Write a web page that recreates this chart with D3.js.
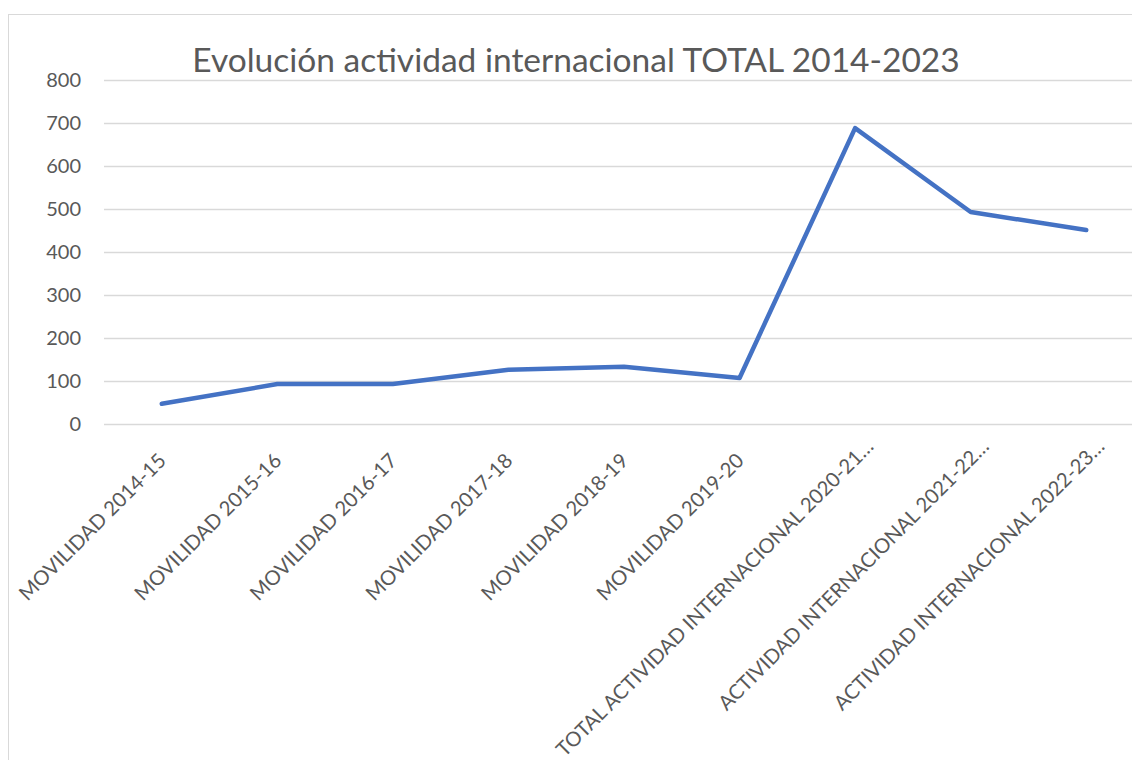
<!DOCTYPE html>
<html>
<head>
<meta charset="utf-8">
<script src="https://cdn.jsdelivr.net/npm/d3@7"></script>
<style>
  body { margin: 0; background: #fff; }
  text { font-family: Lato, "Open Sans", sans-serif; fill: #595959; }
</style>
</head>
<body>
<script>
"use strict";

const categories = [
  "MOVILIDAD 2014-15",
  "MOVILIDAD 2015-16",
  "MOVILIDAD 2016-17",
  "MOVILIDAD 2017-18",
  "MOVILIDAD 2018-19",
  "MOVILIDAD 2019-20",
  "TOTAL ACTIVIDAD INTERNACIONAL 2020-21…",
  "ACTIVIDAD INTERNACIONAL 2021-22…",
  "ACTIVIDAD INTERNACIONAL 2022-23…"
];
const values = [47, 93, 93, 126, 133, 107, 688, 493, 451];
const yTicks = [0, 100, 200, 300, 400, 500, 600, 700, 800];
const title = "Evolución actividad internacional TOTAL 2014-2023";

const width = 1132, height = 760;
const plot = {left: 104, right: 1144, top: 80, bottom: 424};

let svg = d3.select("body").append("svg")
    .attr("width", width)
    .attr("height", height);

// chart frame (runs past the right and bottom edges)
svg.append("rect")
  .attr("x", 8.5).attr("y", 14.5)
  .attr("width", 1200).attr("height", 800)
  .attr("fill", "none")
  .attr("stroke", "#d9d9d9");

let x = d3.scalePoint()
    .domain(categories)
    .range([plot.left, plot.right])
    .padding(0.5);

let y = d3.scaleLinear()
    .domain([0, 800])
    .range([plot.bottom, plot.top]);

svg.append("text")
  .attr("x", 576)
  .attr("y", 72)
  .attr("text-anchor", "middle")
  .attr("font-size", 33.5)
  .text(title);

// gridlines + y labels
let yAxis = svg.append("g")
    .attr("transform", `translate(${plot.left},0)`)
    .call(d3.axisLeft(y).tickValues(yTicks).tickSize(-(plot.right - plot.left)).tickPadding(23));
yAxis.select(".domain").remove();
yAxis.selectAll(".tick line").attr("stroke", "#d9d9d9").attr("stroke-width", 1.3);
yAxis.selectAll(".tick text")
  .attr("font-size", 20)
  .attr("fill", "#595959")
  .style("font-family", "Lato, 'Open Sans', sans-serif");

// x labels, rotated; truncated (wrapped) labels sit a bit further along
let xAxis = svg.append("g")
    .attr("transform", `translate(0,${plot.bottom})`)
    .call(d3.axisBottom(x).tickSize(0).tickPadding(0));
xAxis.select(".domain").remove();
xAxis.selectAll(".tick text")
  .attr("font-size", 20.3)
  .attr("fill", "#595959")
  .style("font-family", "Lato, 'Open Sans', sans-serif")
  .attr("text-anchor", "end")
  .attr("dy", "0")
  .attr("y", 0)
  .attr("dx", d => d.endsWith("…") ? 20 : 0)
  .attr("transform", "translate(5,38) rotate(-45)");

let line = d3.line()
    .x((d, i) => x(categories[i]))
    .y(d => y(d));

svg.append("path")
  .datum(values)
  .attr("d", line)
  .attr("fill", "none")
  .attr("stroke", "#4472c4")
  .attr("stroke-width", 4.5)
  .attr("stroke-linecap", "round")
  .attr("stroke-linejoin", "round");
</script>
</body>
</html>
